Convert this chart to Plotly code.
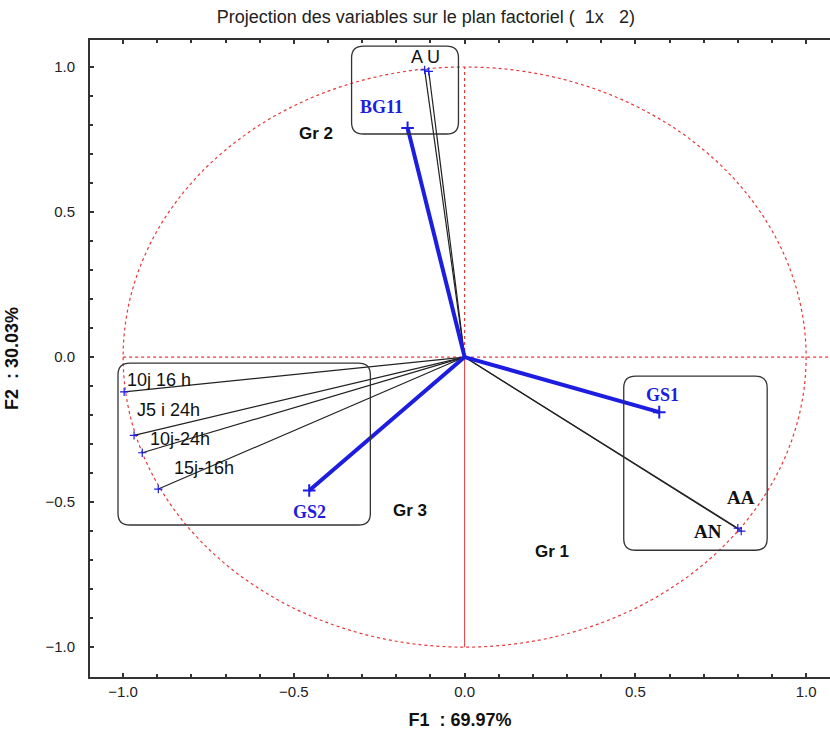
import plotly.graph_objects as go

# ---- data ----
black_names = ["A U", "A U bis", "AA", "AN", "10j 16 h", "J5 i 24h", "10j-24h", "15j-16h"]
black_f1 = [-0.117, -0.105, 0.800, 0.810, -0.997, -0.968, -0.944, -0.897]
black_f2 = [0.990, 0.985, -0.590, -0.600, -0.120, -0.270, -0.330, -0.455]

blue_names = ["BG11", "GS1", "GS2"]
blue_f1 = [-0.167, 0.570, -0.455]
blue_f2 = [0.790, -0.190, -0.460]

# group boxes: x0, x1, y0, y1
box_x0 = [-0.331, -1.015, 0.466]
box_x1 = [-0.018, -0.276, 0.886]
box_y0 = [0.769, -0.579, -0.666]
box_y1 = [1.072, -0.021, -0.066]

group_labels = ["Gr 2", "Gr 3", "Gr 1"]
group_x = [-0.434, -0.161, 0.255]
group_y = [0.769, -0.528, -0.669]

# label positions
lab_black = ["A U", "AA", "AN", "10j 16 h", "J5 i 24h", "10j-24h", "15j-16h"]
lab_black_x = [-0.115, 0.81, 0.713, -0.995, -0.966, -0.928, -0.858]
lab_black_y = [1.035, -0.483, -0.603, -0.078, -0.182, -0.282, -0.382]
lab_black_font = ["Arial", "Liberation Serif", "Liberation Serif", "Arial", "Arial", "Arial", "Arial"]

lab_blue_x = [-0.243, 0.58, -0.455]
lab_blue_y = [0.862, -0.131, -0.534]

RED = "#e8383a"
BLUE = "#1d1de0"

fig = go.Figure()

# black vectors
for n, x, y in zip(black_names, black_f1, black_f2):
    fig.add_trace(go.Scatter(x=[0, x], y=[0, y], mode="lines",
                             line=dict(color="#222222", width=1.2),
                             hoverinfo="skip", showlegend=False))
fig.add_trace(go.Scatter(x=black_f1, y=black_f2, mode="markers",
                         marker=dict(symbol="cross-thin", size=6,
                                     line=dict(color=BLUE, width=1.2)),
                         showlegend=False, hoverinfo="skip"))

# blue vectors
for n, x, y in zip(blue_names, blue_f1, blue_f2):
    fig.add_trace(go.Scatter(x=[0, x], y=[0, y], mode="lines",
                             line=dict(color=BLUE, width=4),
                             hoverinfo="skip", showlegend=False))
fig.add_trace(go.Scatter(x=blue_f1, y=blue_f2, mode="markers",
                         marker=dict(symbol="cross-thin", size=9,
                                     line=dict(color=BLUE, width=2)),
                         showlegend=False, hoverinfo="skip"))

shapes = []
# unit circle and axes through origin
shapes.append(dict(type="circle", xref="x", yref="y", x0=-1, y0=-1, x1=1, y1=1,
                   line=dict(color=RED, width=1.2, dash="dot"), layer="below"))
shapes.append(dict(type="line", xref="x", yref="y", x0=-1, y0=0, x1=1.07, y1=0,
                   line=dict(color=RED, width=1.2, dash="dot"), layer="below"))
shapes.append(dict(type="line", xref="x", yref="y", x0=0, y0=0, x1=0, y1=1,
                   line=dict(color=RED, width=1.2, dash="dot"), layer="below"))
shapes.append(dict(type="line", xref="x", yref="y", x0=0, y0=-1, x1=0, y1=0,
                   line=dict(color=RED, width=1), layer="below"))

# rounded boxes
rx, ry = 0.035, 0.04
for x0, x1, y0, y1 in zip(box_x0, box_x1, box_y0, box_y1):
    p = (f"M {x0+rx},{y1} L {x1-rx},{y1} Q {x1},{y1} {x1},{y1-ry} "
         f"L {x1},{y0+ry} Q {x1},{y0} {x1-rx},{y0} "
         f"L {x0+rx},{y0} Q {x0},{y0} {x0},{y0+ry} "
         f"L {x0},{y1-ry} Q {x0},{y1} {x0+rx},{y1} Z")
    shapes.append(dict(type="path", xref="x", yref="y", path=p,
                       line=dict(color="#333333", width=1.3)))

annotations = []
for t, x, y, f in zip(lab_black, lab_black_x, lab_black_y, lab_black_font):
    xa = "left" if t[0] in "1J" else "center"
    serif = f != "Arial"
    annotations.append(dict(x=x, y=y, text=(f"<b>{t}</b>" if serif else t),
                            showarrow=False, xanchor=xa,
                            font=dict(family=f, size=(19 if serif else 18), color="#111111")))
for t, x, y in zip(blue_names, lab_blue_x, lab_blue_y):
    annotations.append(dict(x=x, y=y, text=f"<b>{t}</b>", showarrow=False,
                            font=dict(family="Liberation Serif", size=18, color=BLUE)))
for t, x, y in zip(group_labels, group_x, group_y):
    annotations.append(dict(x=x, y=y, text=f"<b>{t}</b>", showarrow=False,
                            font=dict(family="Arial", size=17, color="#111111")))

fig.update_layout(
    width=830, height=738,
    margin=dict(l=90, r=0, t=40, b=61),
    paper_bgcolor="white", plot_bgcolor="white",
    shapes=shapes, annotations=annotations,
    title=dict(text="Projection des variables sur le plan factoriel (  1x   2)",
               x=0.513, xanchor="center", y=0.977, yanchor="middle",
               font=dict(family="Arial", size=18, color="#222222")),
    showlegend=False,
)
fig.update_xaxes(range=[-1.097, 1.07], showgrid=False, zeroline=False,
                 showline=True, linecolor="#333333", linewidth=2, mirror="ticks",
                 ticks="inside", ticklen=4, tickwidth=1.5, tickcolor="#333333",
                 tick0=0, dtick=0.5, tickformat=".1f",
                 minor=dict(dtick=0.1, tick0=0, ticks="inside", ticklen=3,
                            tickwidth=1.5, tickcolor="#333333"),
                 tickfont=dict(family="Arial", size=15, color="#222222"),
                 title=dict(text="<b>F1  : 69.97%</b>", standoff=14,
                            font=dict(family="Arial", size=18, color="#111111")))
fig.update_yaxes(range=[-1.103, 1.093], showgrid=False, zeroline=False,
                 showline=True, linecolor="#333333", linewidth=2,
                 ticks="inside", ticklen=4, tickwidth=1.5, tickcolor="#333333",
                 tick0=0, dtick=0.5, tickformat=".1f",
                 minor=dict(dtick=0.1, tick0=0, ticks="inside", ticklen=3,
                            tickwidth=1.5, tickcolor="#333333"),
                 tickfont=dict(family="Arial", size=15, color="#222222"),
                 ticklabelstandoff=10,
                 title=dict(text="<b>F2  : 30.03%</b>", standoff=22,
                            font=dict(family="Arial", size=18, color="#111111")))

fig.write_html("out.html")
